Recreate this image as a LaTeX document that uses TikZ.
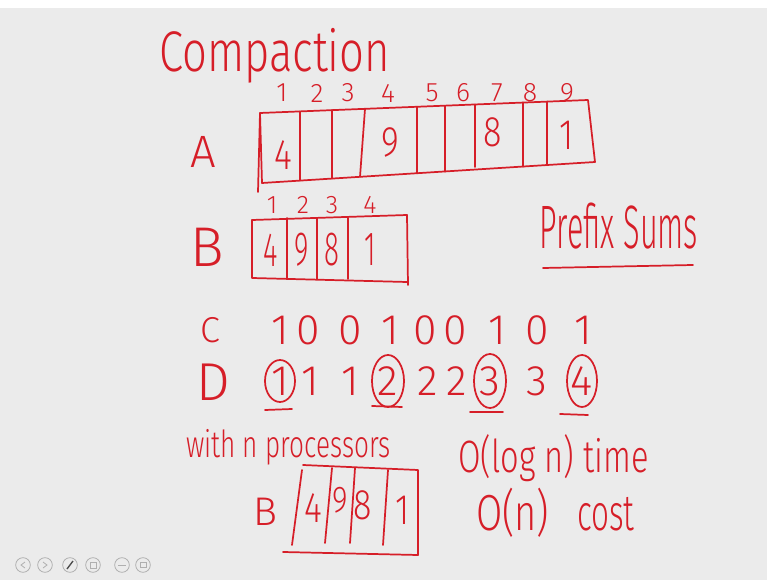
\documentclass[tikz,border=0pt]{standalone}
\usepackage{fontspec}
\usetikzlibrary{calc}
\setmainfont{Fira Sans Light}
\definecolor{ink}{RGB}{214,30,40}
\definecolor{board}{RGB}{235,235,235}
\definecolor{iconc}{RGB}{175,175,175}
\begin{document}
\begin{tikzpicture}[x=0.75pt,y=-0.75pt,
  pen/.style={draw=ink,line width=1.3pt,line cap=round,line join=round},
  hw/.style={text=ink,inner sep=0pt,anchor=center},
  fs/.style={font=\fontsize{#1pt}{#1pt}\selectfont},
  title/.style={hw,fs=43,anchor=base west,xscale=0.76,text depth=0pt},
  idx/.style={hw,fs=20},
  cell/.style={hw,fs=32,xscale=0.8},
  lbl/.style={hw,fs=40},
  bit/.style={hw,fs=32},
  icon/.style={draw=iconc,line width=0.6pt}]
\useasboundingbox (0,0) rectangle (767,580);
\fill[board] (0,0) rectangle (767,580);
\fill[white] (0,0) rectangle (767,8);

% heading
\node[title] (head) at (159,72) {Compaction};

% array A with its indices
\node[lbl,fs=34] (A) at (203,152) {A};
\foreach \i/\x in {1/282,2/317,3/348,4/388,5/432,6/463,7/497,8/530,9/567}
  \node[idx] (ai\i) at (\x,93) {\i};
\draw[pen] (260,113) -- (588,100) -- (595,162) -- (262,183) -- cycle;
\draw[pen] (260,113) -- (258,192);
\foreach \xt/\yt/\xb/\yb in {300/111.4/300/180.6, 332/110.1/332/178.6,
    365/108.9/360/176.8, 417/106.8/417/173.3, 445/105.7/445/171.6,
    475/104.5/475/167, 523/102.6/523/166.7, 547/101.6/547/165.2}
  \draw[pen] (\xt,\yt) -- (\xb,\yb);
\node[cell] (a1) at (283,155) {4};
\node[cell] (a4) at (390,142) {9};
\node[cell] (a7) at (493,132) {8};
\node[cell] (a9) at (567,135) {1};

% array B
\node[lbl,fs=42] (B) at (207,247) {B};
\foreach \i/\x in {1/272,2/303,3/332,4/370}
  \node[idx,fs=19] (bi\i) at (\x,205) {\i};
\draw[pen] (252,220) -- (407,215) -- (408,285);
\draw[pen] (252,220) -- (252,278) -- (407,282);
\foreach \x in {287,317,348}
  \draw[pen] (\x,218) -- (\x,279);
\node[cell,fs=36,xscale=0.72] (b1) at (271,250) {4};
\node[cell,fs=36,xscale=0.72] (b2) at (302,250) {9};
\node[cell,fs=36,xscale=0.72] (b3) at (332,250) {8};
\node[cell,fs=36,xscale=0.72] (b4) at (370,250) {1};

% prefix sums heading
\node[hw,fs=46,xscale=0.5] (ps) at (619,226) {Prefix Sums};
\draw[pen] (543,268) -- (693,265);

% flags C
\node[hw,fs=27] (C) at (210,330) {C};
\foreach \v/\x [count=\k] in {1/280,0/308,0/350,1/390,0/425,0/455,1/497,0/537,1/583}
  \node[bit] (c\k) at (\x,330) {\v};

% prefix sums D
\node[lbl] (D) at (213,382) {D};
\foreach \v/\x [count=\k] in {1/280,1/310,1/350,2/388,2/428,2/457,3/490,3/537,4/582}
  \node[bit] (d\k) at (\x,381) {\v};
\draw[pen] (d1) ellipse [x radius=15, y radius=21];
\draw[pen] (d4) ellipse [x radius=16, y radius=26];
\draw[pen] (d7) ellipse [x radius=16, y radius=27];
\draw[pen] (d9) ellipse [x radius=15, y radius=26];
\draw[pen] (265,410) -- (292,409);
\draw[pen] (372,406) -- (402,407);
\draw[pen] (470,412) -- (503,412);
\draw[pen] (560,414) -- (588,415);

% parallel step
\node[hw,fs=28,anchor=base west,xscale=0.7] (proc) at (186,457) {with n processors};
\node[hw,fs=30] (B2) at (265,512) {B};
\draw[pen] (303,465) -- (418,470) -- (418,555);
\draw[pen] (283,552) -- (418,555);
\foreach \xb/\yb/\xt/\yt in {292/545/302/470, 325/543/332/468, 350/543/355/468, 383/545/388/470}
  \draw[pen] (\xb,\yb) -- (\xt,\yt);
\node[cell] (e1) at (313,508) {4};
\node[cell,fs=28] (e2) at (340,500) {9};
\node[cell] (e3) at (363,505) {8};
\node[cell] (e4) at (403,510) {1};

% complexity
\node[hw,fs=34,anchor=base west,xscale=0.72] (time) at (458,473) {O(log n) time};
\node[hw,fs=38,anchor=base west,xscale=0.75] (cost1) at (476,530) {O(n)};
\node[hw,fs=38,anchor=base west,xscale=0.62] (cost2) at (577,530) {cost};

% player controls
\foreach \x/\n in {23/p1,45/p2,70/p3,93/p4,122/p5,143/p6}
  \node[circle,icon,minimum size=11pt,inner sep=0pt] (\n) at (\x,565) {};
\draw[icon] ($(p1)+(2,-3)$) -- ($(p1)+(-2,0)$) -- ($(p1)+(2,3)$);
\draw[icon] ($(p2)+(-2,-3)$) -- ($(p2)+(2,0)$) -- ($(p2)+(-2,3)$);
\draw[draw=black!70,line width=1pt] ($(p3)+(-3,4)$) -- ($(p3)+(3,-4)$);
\draw[icon] ($(p4)+(-3,-3)$) rectangle ($(p4)+(3,3)$);
\draw[icon] ($(p5)+(-4,0)$) -- ($(p5)+(4,0)$);
\draw[icon] ($(p6)+(-3,-3)$) rectangle ($(p6)+(3,2)$);
\end{tikzpicture}
\end{document}
